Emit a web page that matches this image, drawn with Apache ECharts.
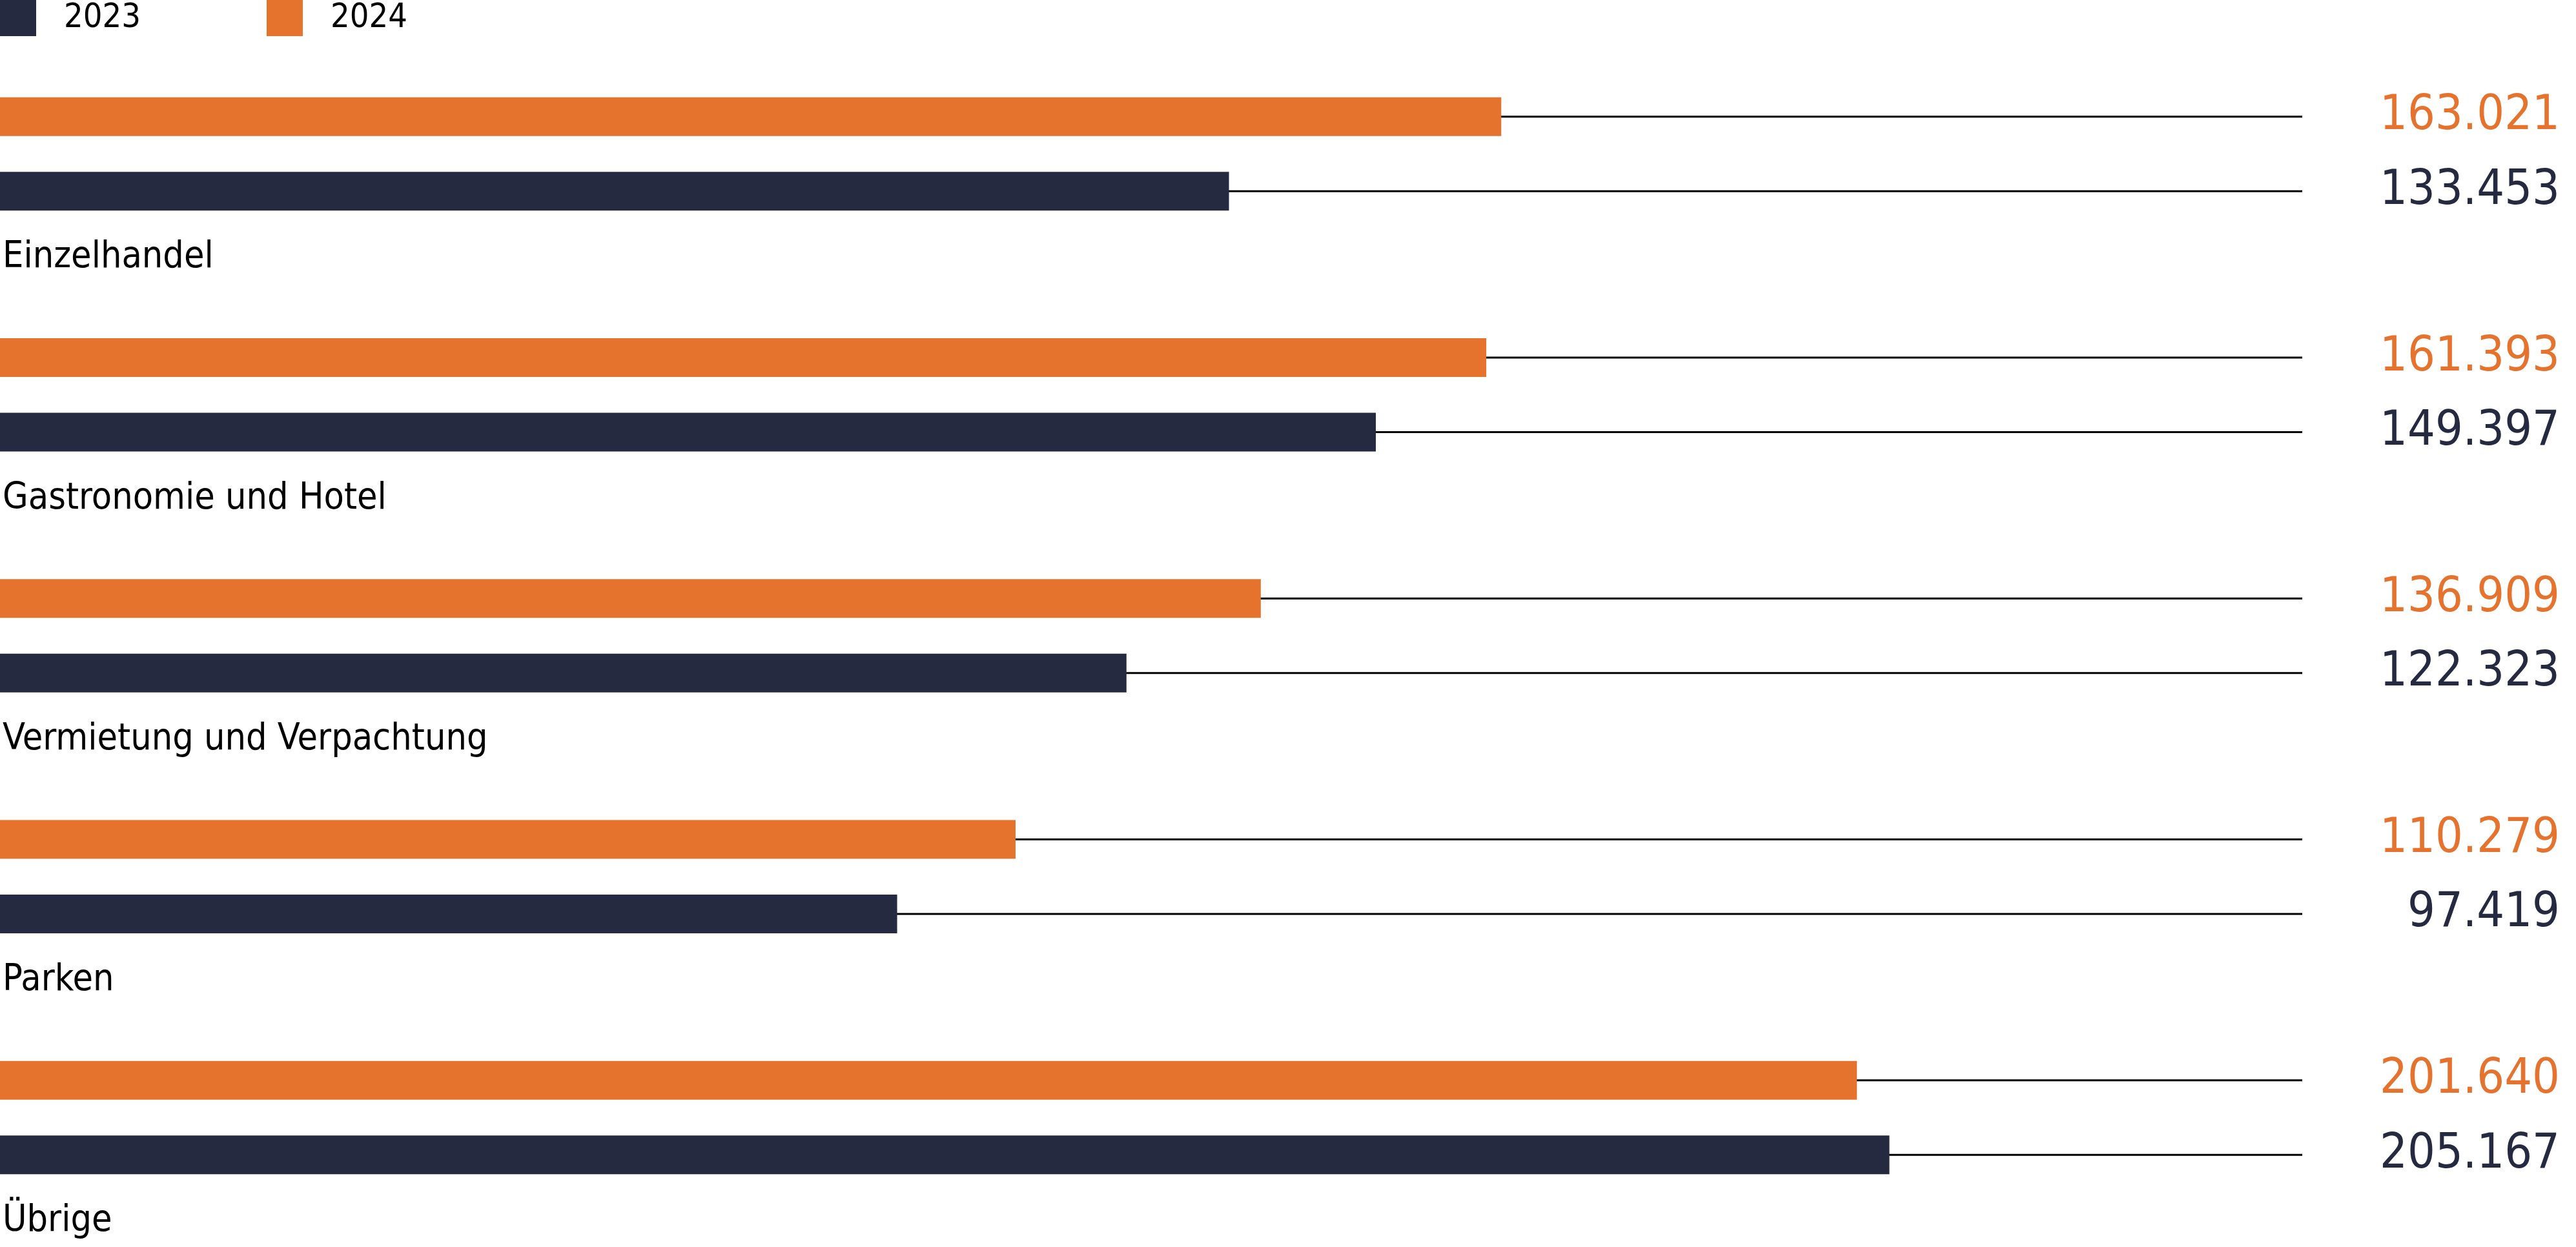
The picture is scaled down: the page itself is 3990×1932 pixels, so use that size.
<!DOCTYPE html>
<html>
<head>
<meta charset="utf-8">
<script src="https://cdn.jsdelivr.net/npm/echarts@6/dist/echarts.min.js"></script>
<style>
html, body { margin: 0; padding: 0; background: #fff; }
#chart { width: 3990px; height: 1932px; }
</style>
</head>
<body>
<div id="chart"></div>
<script>
// Kategorien und Werte
var categories = ['Einzelhandel', 'Gastronomie und Hotel', 'Vermietung und Verpachtung', 'Parken', 'Übrige'];
var values2024 = [163021, 161393, 136909, 110279, 201640];
var values2023 = [133453, 149397, 122323, 97419, 205167];
var axisMax = 250000;

var orange = '#E5732E';
var navy = '#252A40';

// Tausendertrennzeichen mit Punkt
function fmt(v) {
    return String(v).replace(/\B(?=(\d{3})+(?!\d))/g, '.');
}

var chart = echarts.init(document.getElementById('chart'));
var option = {
    animation: false,
    legend: {
        left: 0,
        top: 0,
        padding: 0,
        icon: 'rect',
        itemWidth: 56,
        itemHeight: 56,
        itemGap: 195,
        data: ['2023', '2024'],
        selectedMode: false,
        textStyle: {
            fontFamily: 'DejaVu Sans Condensed',
            fontSize: 52,
            color: '#000',
            width: 200,
            padding: [0, 0, 8, 38]
        }
    },
    grid: {
        left: 0,
        top: 52,
        width: 3566,
        height: 1866,
        outerBoundsMode: 'none'
    },
    xAxis: {
        type: 'value',
        min: 0,
        max: axisMax,
        show: false
    },
    yAxis: [
        {
            type: 'category',
            data: categories,
            inverse: true,
            axisLine: { show: false },
            axisTick: { show: false },
            axisLabel: {
                inside: true,
                interval: 0,
                margin: 4,
                align: 'left',
                fontFamily: 'DejaVu Sans Condensed',
                fontSize: 57,
                lineHeight: 322,
                color: '#000',
                // leere erste Zeile schiebt den Namen unter die Balken
                formatter: function (value) {
                    return '\n' + value;
                }
            }
        },
        {
            type: 'category',
            data: categories,
            inverse: true,
            position: 'right',
            axisLine: { show: false },
            axisTick: { show: false },
            axisLabel: {
                interval: 0,
                margin: 399,
                align: 'right',
                formatter: function (value, index) {
                    return '{a|' + fmt(values2024[index]) + '}\n{b|' + fmt(values2023[index]) + '}';
                },
                rich: {
                    a: { fontFamily: 'DejaVu Sans Condensed', fontSize: 75, lineHeight: 115.5, color: orange },
                    b: { fontFamily: 'DejaVu Sans Condensed', fontSize: 75, lineHeight: 115.5, color: navy }
                }
            }
        }
    ],
    series: [
        {
            name: '2024',
            type: 'bar',
            barWidth: 60,
            barGap: '92.5%',
            itemStyle: { color: orange },
            data: values2024
        },
        {
            name: '2023',
            type: 'bar',
            barWidth: 60,
            barGap: '92.5%',
            itemStyle: { color: navy },
            data: values2023
        },
        // Linien bis zum rechten Rand
        {
            name: 'l2024',
            type: 'pictorialBar',
            barWidth: 60,
            barGap: '92.5%',
            symbol: 'rect',
            symbolSize: ['100%', 3],
            symbolPosition: 'start',
            symbolBoundingData: axisMax,
            itemStyle: { color: '#000' },
            z: 1,
            data: values2024
        },
        {
            name: 'l2023',
            type: 'pictorialBar',
            barWidth: 60,
            barGap: '92.5%',
            symbol: 'rect',
            symbolSize: ['100%', 3],
            symbolPosition: 'start',
            symbolBoundingData: axisMax,
            itemStyle: { color: '#000' },
            z: 1,
            data: values2023
        }
    ]
};
chart.setOption(option);
</script>
</body>
</html>
